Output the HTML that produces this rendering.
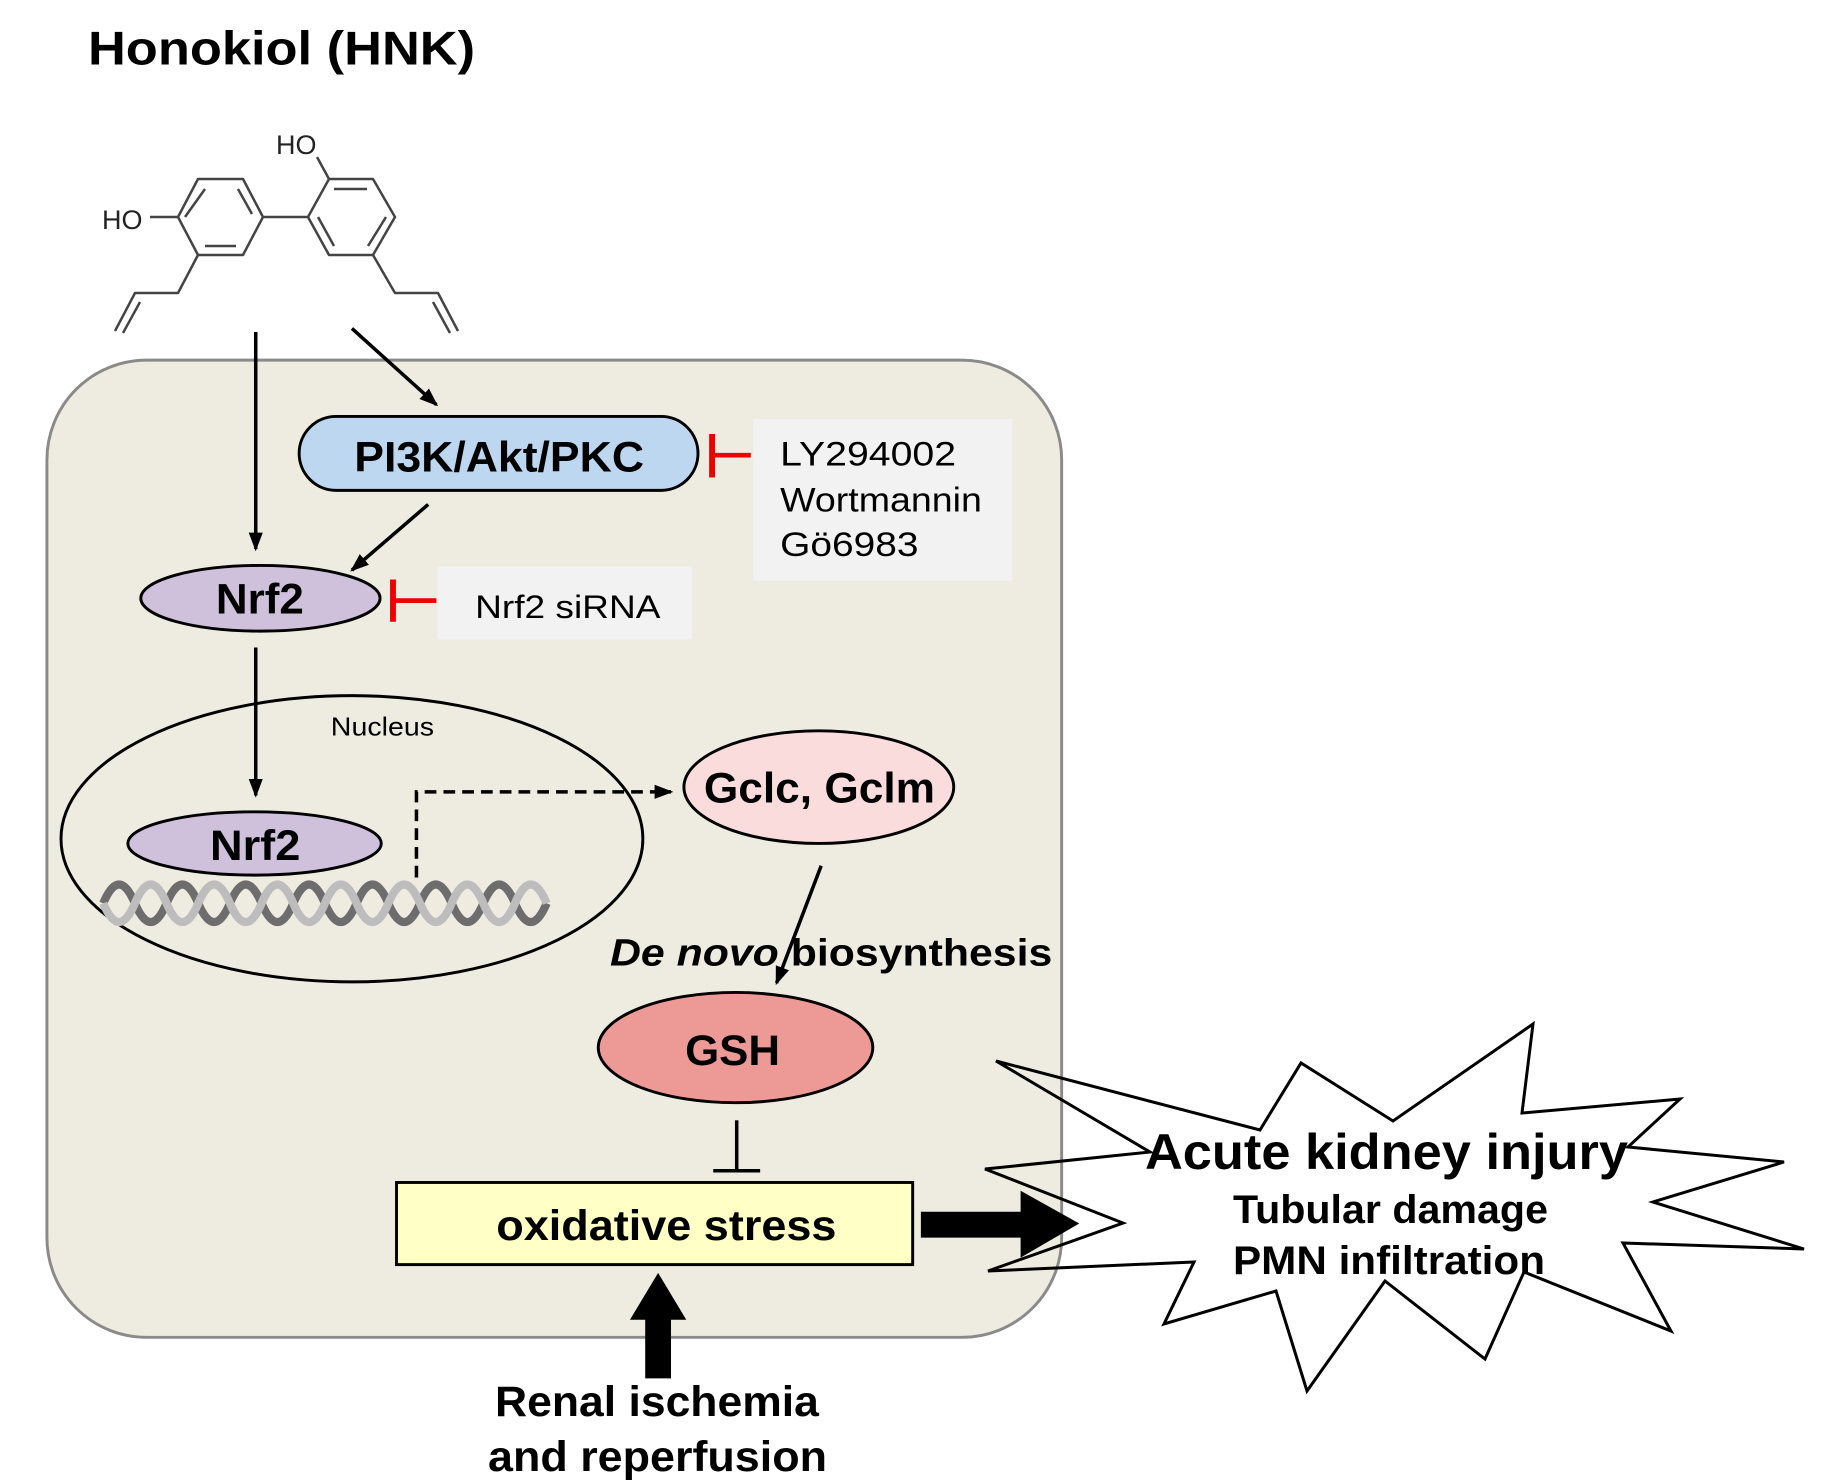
<!DOCTYPE html>
<html><head><meta charset="utf-8"><style>
html,body{margin:0;padding:0;background:#fff;}
svg{display:block;}
text{font-family:"Liberation Sans",Arial,sans-serif;}
</style></head><body>
<svg width="1830" height="1482" viewBox="0 0 1830 1482" xmlns="http://www.w3.org/2000/svg">
<defs>
<marker id="ah2" markerWidth="16" markerHeight="16" refX="14" refY="8" orient="auto" markerUnits="userSpaceOnUse" viewBox="0 0 16 16">
<path d="M0,2 L16,8 L0,14 z" fill="#000"/></marker>
</defs>
<g transform="scale(1.1731)">
<text x="75" y="55" font-size="40" font-weight="bold" textLength="330" lengthAdjust="spacingAndGlyphs">Honokiol (HNK)</text>
<rect x="40" y="307" width="865" height="833" rx="85" fill="#eeebe0" stroke="#8a8a8a" stroke-width="2.5"/>
<line x1="218" y1="283" x2="218" y2="468" stroke="#000" stroke-width="3" marker-end="url(#ah2)"/>
<line x1="300" y1="280" x2="372" y2="345" stroke="#000" stroke-width="3" marker-end="url(#ah2)"/>
<rect x="255" y="355" width="340" height="63" rx="31.5" fill="#bdd7f1" stroke="#000" stroke-width="2.5"/>
<text x="302" y="402" font-size="36" font-weight="bold" textLength="247" lengthAdjust="spacingAndGlyphs">PI3K/Akt/PKC</text>
<line x1="640" y1="388" x2="607" y2="388" stroke="#e00" stroke-width="4"/>
<line x1="607" y1="370" x2="607" y2="407" stroke="#e00" stroke-width="5"/>
<rect x="642" y="357" width="221" height="138" fill="#f2f2f2"/>
<text x="665" y="397" font-size="29" textLength="150" lengthAdjust="spacingAndGlyphs">LY294002</text>
<text x="665" y="436" font-size="29" textLength="172" lengthAdjust="spacingAndGlyphs">Wortmannin</text>
<text x="665" y="474" font-size="29" textLength="118" lengthAdjust="spacingAndGlyphs">Gö6983</text>
<line x1="365" y1="430" x2="300" y2="486" stroke="#000" stroke-width="3" marker-end="url(#ah2)"/>
<ellipse cx="222" cy="510" rx="102" ry="28" fill="#cfc0dc" stroke="#000" stroke-width="2.5"/>
<text x="184" y="523" font-size="36" font-weight="bold" textLength="75" lengthAdjust="spacingAndGlyphs">Nrf2</text>
<line x1="372" y1="512" x2="335" y2="512" stroke="#e00" stroke-width="4"/>
<line x1="335" y1="494" x2="335" y2="530" stroke="#e00" stroke-width="5"/>
<rect x="373" y="483" width="217" height="62" fill="#f2f2f2"/>
<text x="405" y="527" font-size="28" textLength="158" lengthAdjust="spacingAndGlyphs">Nrf2 siRNA</text>
<line x1="218" y1="552" x2="218" y2="678" stroke="#000" stroke-width="3" marker-end="url(#ah2)"/>
<ellipse cx="300" cy="715" rx="248" ry="122" fill="none" stroke="#000" stroke-width="2.5"/>
<text x="282" y="627" font-size="22" textLength="88" lengthAdjust="spacingAndGlyphs">Nucleus</text>
<ellipse cx="217" cy="719" rx="108" ry="27" fill="#cfc0dc" stroke="#000" stroke-width="2.5"/>
<text x="179" y="733" font-size="36" font-weight="bold" textLength="77" lengthAdjust="spacingAndGlyphs">Nrf2</text>
<g fill="none" stroke-width="7">
<path d="M88,770 q13.5,-32 27,0 t27,0 t27,0 t27,0 t27,0 t27,0 t27,0 t27,0 t27,0 t27,0 t27,0 t27,0 t27,0 t27,0" stroke="#6d6d6d"/>
<path d="M88,770 q13.5,32 27,0 t27,0 t27,0 t27,0 t27,0 t27,0 t27,0 t27,0 t27,0 t27,0 t27,0 t27,0 t27,0 t27,0" stroke="#bdbdbd"/>
</g>
<path d="M355,748 L355,675 L572,675" fill="none" stroke="#000" stroke-width="3" stroke-dasharray="10,6" marker-end="url(#ah2)"/>
<ellipse cx="698" cy="671" rx="115" ry="48" fill="#fadcdc" stroke="#000" stroke-width="2.5"/>
<text x="600" y="684" font-size="36" font-weight="bold" textLength="197" lengthAdjust="spacingAndGlyphs">Gclc, Gclm</text>
<line x1="700" y1="738" x2="662" y2="838" stroke="#000" stroke-width="3" marker-end="url(#ah2)"/>
<text x="520" y="823" font-size="32" font-weight="bold" textLength="377" lengthAdjust="spacingAndGlyphs"><tspan font-style="italic">De novo</tspan> biosynthesis</text>
<ellipse cx="627" cy="893" rx="117" ry="47" fill="#ed9a96" stroke="#000" stroke-width="2.5"/>
<text x="584" y="908" font-size="36" font-weight="bold" textLength="81" lengthAdjust="spacingAndGlyphs">GSH</text>
<line x1="628" y1="955" x2="628" y2="998" stroke="#000" stroke-width="3"/>
<line x1="608" y1="998" x2="648" y2="998" stroke="#000" stroke-width="3"/>
<rect x="338" y="1008" width="440" height="70" fill="#ffffc6" stroke="#000" stroke-width="2.5"/>
<text x="423" y="1057" font-size="36" font-weight="bold" textLength="290" lengthAdjust="spacingAndGlyphs">oxidative stress</text>
<path d="M785,1033 L870,1033 L870,1015 L920,1043 L870,1072 L870,1055 L785,1055 z" fill="#000"/>
<path d="M550,1175 L550,1125 L537,1125 L561,1085 L585,1125 L572,1125 L572,1175 z" fill="#000"/>
<text x="422" y="1207" font-size="36" font-weight="bold" textLength="276" lengthAdjust="spacingAndGlyphs">Renal ischemia</text>
<text x="416" y="1254" font-size="36" font-weight="bold" textLength="289" lengthAdjust="spacingAndGlyphs">and reperfusion</text>
</g>
<g fill="none" stroke="#444" stroke-width="2.5" stroke-linejoin="round">
<polygon points="198,179 243,179 263,217 243,255 198,255 178,217"/>
<line x1="205" y1="189" x2="185" y2="217"/><line x1="238" y1="189" x2="252" y2="214"/><line x1="205" y1="246" x2="236" y2="246"/>
<polygon points="329,179 373,179 395,217 373,255 329,255 308,217"/>
<line x1="334" y1="189" x2="367" y2="189"/><line x1="386" y1="217" x2="368" y2="246"/><line x1="318" y1="217" x2="334" y2="246"/>
<line x1="263" y1="217" x2="308" y2="217"/>
<line x1="150" y1="217" x2="178" y2="217"/>
<line x1="329" y1="179" x2="317" y2="157"/>
<polyline points="198,255 178,293 135,293 115,331"/><line x1="140" y1="302" x2="123" y2="333"/>
<polyline points="373,255 395,293 438,293 458,331"/><line x1="433" y1="302" x2="450" y2="333"/>
</g>
<text x="102" y="229" font-size="27" fill="#222">HO</text>
<text x="276" y="154" font-size="27" fill="#222">HO</text>
<polygon points="996,1061 1260,1130 1301,1063 1393,1121 1533,1024 1522,1113 1680,1099 1628,1147 1784,1162 1653,1202 1804,1249 1623,1243 1671,1331 1524,1272 1485,1359 1385,1281 1307,1391 1276,1291 1164,1324 1194,1262 988,1271 1123,1223 985,1169 1150,1152" fill="none" stroke="#000" stroke-width="3"/>
<text x="1145" y="1169" font-size="50" font-weight="bold" textLength="483" lengthAdjust="spacingAndGlyphs">Acute kidney injury</text>
<text x="1233" y="1223" font-size="40" font-weight="bold" textLength="315" lengthAdjust="spacingAndGlyphs">Tubular damage</text>
<text x="1233" y="1274" font-size="40" font-weight="bold" textLength="312" lengthAdjust="spacingAndGlyphs">PMN infiltration</text>
</svg>
</body></html>
